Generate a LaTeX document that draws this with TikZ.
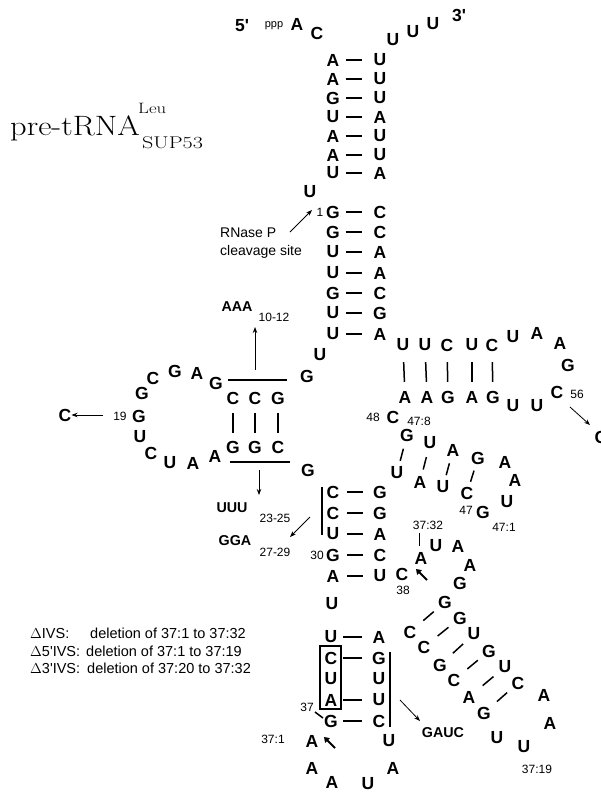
\documentclass[tikz,border=0pt]{standalone}
\usepackage{fontspec}
\setsansfont{Liberation Sans}
\usetikzlibrary{calc,arrows.meta}
\newcommand\ntf{\sffamily\bfseries\fontsize{17.5}{18}\selectfont}
\newcommand\smf{\sffamily\fontsize{12}{13}\selectfont}
\newcommand\midf{\sffamily\bfseries\fontsize{14.3}{15}\selectfont}
\newcommand\txf{\sffamily\fontsize{14}{16}\selectfont}
\newcommand\lgf{\sffamily\fontsize{14.5}{16}\selectfont}
\newcommand\bp[4]{\draw[bond] ($(#1)!#3!(#2)$) -- ($(#1)!#4!(#2)$);}
\tikzset{
  nt/.style={font=\ntf, inner sep=0pt},
  sm/.style={font=\smf, inner sep=0pt},
  md/.style={font=\midf, inner sep=0pt},
  tx/.style={font=\txf, inner sep=0pt, anchor=base west},
  lg/.style={font=\lgf, inner sep=0pt, anchor=base west},
  ttl/.style={inner sep=0pt, anchor=base west},
  bond/.style={line width=1.5pt},
  rule/.style={line width=1.3pt},
  arr/.style={line width=0.8pt, -{Stealth[length=6pt,width=4.5pt]}},
  barr/.style={line width=2pt, -{Triangle[length=5pt,width=6.5pt]}},
}
\begin{document}
\begin{tikzpicture}[x=1pt,y=-1pt]
\useasboundingbox (0,0) rectangle (601,793);
\fill[white] (0,0) rectangle (601,793);
% title
\node[ttl] (title) at (10,135) {\scalebox{1.16}[1]{\rmfamily\fontsize{28}{28}\selectfont pre-tRNA}};
\node[ttl] (leu) at (138,113) {\scalebox{1.25}[1]{\rmfamily\fontsize{15}{15}\selectfont Leu}};
\node[ttl] (sup) at (142,148) {\scalebox{1.3}[1]{\rmfamily\fontsize{17}{17}\selectfont SUP53}};
% 5' end
\node[nt] (p5) at (242,26) {5\textquotesingle};
\node[sm] (ppp) at (274,26) {\fontsize{11}{12}\selectfont ppp};
\node[nt] (A0) at (297,24) {A};
\node[nt] (C0) at (317,33) {C};
% acceptor (leader/trailer) stem
\foreach \n/\y/\l/\r in {1/60/A/U,2/79/A/U,3/98/G/U,4/117/U/A,5/136/A/U,6/155/A/U,7/173/U/A}{
  \node[nt] (aL\n) at (333,\y) {\l};
  \node[nt] (aR\n) at (380,\y) {\r};
  \bp{aL\n}{aR\n}{.27}{.62}
}
\node[nt] (t1) at (393,40) {U};
\node[nt] (t2) at (413,32) {U};
\node[nt] (t3) at (433,24) {U};
\node[nt] (p3) at (459,15) {3\textquotesingle};
\node[nt] (Ub) at (310,192) {U};
% mature acceptor stem
\foreach \n/\y/\l/\r in {1/212/G/C,2/232/G/C,3/252/U/A,4/273/U/A,5/293/G/C,6/313/U/G,7/334/U/A}{
  \node[nt] (mL\n) at (333,\y) {\l};
  \node[nt] (mR\n) at (380,\y) {\r};
  \bp{mL\n}{mR\n}{.27}{.62}
}
\node[sm] (one) at (320,212) {1};
\node[tx] (rn1) at (220,237) {RNase P};
\node[tx] (rn2) at (220,255) {cleavage site};
\coordinate (rnS) at (290,232);
\coordinate (rnE) at (312,210);
\draw[arr] (rnS) -- (rnE);
% junction
\node[nt] (U8) at (320,355) {U};
\node[nt] (G9) at (307,376) {G};
% D arm
\node[nt] (d1) at (233,398) {C};
\node[nt] (d2) at (255,398) {C};
\node[nt] (d3) at (278,398) {G};
\node[nt] (e1) at (233,447) {G};
\node[nt] (e2) at (255,447) {G};
\node[nt] (e3) at (278,447) {C};
\bp{d1}{e1}{.31}{.71}
\bp{d2}{e2}{.31}{.71}
\bp{d3}{e3}{.31}{.71}
\coordinate (hA) at (228,380); \coordinate (hB) at (287,380);
\coordinate (hC) at (230,462); \coordinate (hD) at (290,462);
\draw[rule] (hA) -- (hB);
\draw[rule] (hC) -- (hD);
% D loop
\node[nt] (dl1) at (216,383) {G};
\node[nt] (dl2) at (197,373) {A};
\node[nt] (dl3) at (175,371) {G};
\node[nt] (dl4) at (153,378) {C};
\node[nt] (dl5) at (142,393) {G};
\node[nt] (dl6) at (139,416) {G};
\node[nt] (dl7) at (140,437) {U};
\node[nt] (dl8) at (151,453) {C};
\node[nt] (dl9) at (170,463) {U};
\node[nt] (dl10) at (193,463) {A};
\node[nt] (dl11) at (215,456) {A};
\node[sm] (n19) at (120,416) {19};
\node[nt] (Cx) at (65,415) {C};
\coordinate (c19) at (103,415);
\draw[arr] (c19) -- (Cx.east);
% AAA / UUU / GGA
\node[md] (aaa) at (237,307) {AAA};
\node[sm] (n1012) at (274,317) {10-12};
\coordinate (aaS) at (255,370); \coordinate (aaE) at (255,327);
\draw[arr] (aaS) -- (aaE);
\node[md] (uuu) at (232,508) {UUU};
\node[sm] (n2325) at (275,518) {23-25};
\coordinate (uuS) at (259,470); \coordinate (uuE) at (259,495);
\draw[arr] (uuS) -- (uuE);
\node[md] (gga) at (235,541) {GGA};
\node[sm] (n2729) at (275,552) {27-29};
\coordinate (ggS) at (310,517); \coordinate (ggE) at (290,537);
\draw[arr] (ggS) -- (ggE);
\node[nt] (G26) at (308,470) {G};
% T arm
\node[nt] (T1) at (403,345) {U};
\node[nt] (T2) at (425,345) {U};
\node[nt] (T3) at (447,345) {C};
\node[nt] (T4) at (472,345) {U};
\node[nt] (T5) at (492,345) {C};
\node[nt] (B1) at (405,397) {A};
\node[nt] (B2) at (427,397) {A};
\node[nt] (B3) at (448,397) {G};
\node[nt] (B4) at (472,397) {A};
\node[nt] (B5) at (493,397) {G};
\foreach \i in {1,...,5}{\bp{T\i}{B\i}{.33}{.71}}
\node[nt] (TL1) at (513,337) {U};
\node[nt] (TL2) at (537,333) {A};
\node[nt] (TL3) at (560,343) {A};
\node[nt] (TL4) at (568,365) {G};
\node[nt] (TL5) at (557,392) {C};
\node[sm] (n56) at (577,394) {56};
\node[nt] (TL6) at (537,406) {U};
\node[nt] (TL7) at (513,406) {U};
\node[nt] (Cr) at (601,437) {C};
\coordinate (c56) at (570,407);
\coordinate (c56e) at (590,425);
\draw[arr] (c56) -- (c56e);
% variable region
\node[sm] (n48) at (373,417) {48};
\node[nt] (C48) at (393,417) {C};
\node[sm] (n478) at (419,421) {47:8};
\node[nt] (v1) at (407,435) {G};
\node[nt] (v2) at (430,443) {U};
\node[nt] (v3) at (453,450) {A};
\node[nt] (v4) at (478,458) {G};
\node[nt] (v5) at (505,462) {A};
\node[nt] (v6) at (515,480) {A};
\node[nt] (v7) at (507,502) {U};
\node[nt] (v8) at (483,512) {G};
\node[nt] (w4) at (467,493) {C};
\node[nt] (w3) at (443,487) {U};
\node[nt] (w2) at (420,482) {A};
\node[nt] (w1) at (397,473) {U};
\bp{w1}{v1}{.32}{.64}
\bp{w2}{v2}{.32}{.64}
\bp{w3}{v3}{.32}{.64}
\bp{w4}{v4}{.32}{.64}
\node[sm] (n471) at (504,527) {47:1};
\node[sm] (n47) at (466,510) {47};
% anticodon stem
\foreach \n/\y/\l/\r in {1/492/C/G,2/513/C/G,3/534/U/A,4/555/G/C,5/576/A/U}{
  \node[nt] (cL\n) at (333,\y) {\l};
  \node[nt] (cR\n) at (380,\y) {\r};
  \bp{cL\n}{cR\n}{.30}{.64}
}
\coordinate (vA) at (322,487); \coordinate (vB) at (322,535);
\draw[rule] (vA) -- (vB);
\node[sm] (n30) at (317,555) {30};
\node[nt] (C38) at (402,574) {C};
\node[sm] (n38) at (403,590) {38};
\node[nt] (U33) at (332,604) {U};
% intron
\node[sm] (n3732) at (428,525) {37:32};
\node[nt] (i32) at (421,558) {A};
\coordinate (tk1) at (419,533);
\coordinate (tk2) at (419,546);
\draw[line width=0.8pt] (tk1) -- (tk2);
\node[nt] (i31) at (436,546) {U};
\node[nt] (i30) at (458,546) {A};
\node[nt] (i29) at (470,565) {A};
\node[nt] (i28) at (460,583) {G};
\node[nt] (i27) at (445,602) {G};
\node[nt] (i26) at (460,618) {G};
\node[nt] (i25) at (474,634) {U};
\node[nt] (i24) at (489,651) {G};
\node[nt] (i23) at (505,667) {U};
\node[nt] (i22) at (518,683) {C};
\node[nt] (i21) at (544,695) {A};
\node[nt] (i20) at (550,723) {A};
\node[nt] (i19) at (524,747) {U};
\node[sm] (n3719) at (537,769) {37:19};
\node[nt] (i18) at (497,738) {U};
\node[nt] (i17) at (484,713) {G};
\node[nt] (i16) at (469,697) {A};
\node[nt] (i15) at (454,680) {C};
\node[nt] (i14) at (440,665) {G};
\node[nt] (i13) at (424,647) {C};
\node[nt] (i12) at (410,632) {C};
\bp{i12}{i27}{.38}{.68}
\bp{i13}{i26}{.38}{.68}
\bp{i14}{i25}{.38}{.68}
\bp{i15}{i24}{.38}{.68}
\bp{i16}{i23}{.38}{.68}
\bp{i17}{i22}{.38}{.68}
\coordinate (k38) at (427,580);
\coordinate (k38e) at (416,569);
\draw[barr] (k38) -- (k38e);
% lower stem
\foreach \n/\y/\l/\r in {1/637/U/A,2/658/C/G,3/679/U/U,4/700/A/U,5/721/G/C}{
  \node[nt] (sL\n) at (331,\y) {\l};
  \node[nt] (sR\n) at (379,\y) {\r};
}
\bp{sL1}{sR1}{.25}{.65}
\bp{sL2}{sR2}{.25}{.65}
\bp{sL4}{sR4}{.25}{.65}
\bp{sL5}{sR5}{.25}{.65}
\draw[line width=1.2pt] (320,646) rectangle (341,709);
\coordinate (rA) at (390,652); \coordinate (rB) at (390,727);
\draw[rule] (rA) -- (rB);
\node[sm] (n37) at (307,707) {37};
\coordinate (q37) at (315,712);
\coordinate (q37e) at (323,718);
\draw[line width=1.5pt] (q37) -- (q37e);
\node[nt] (j1) at (312,741) {A};
\node[sm] (n371) at (273,739) {37:1};
\node[nt] (j2) at (312,768) {A};
\node[nt] (j3) at (332,782) {A};
\node[nt] (j4) at (368,784) {U};
\node[nt] (j5) at (393,768) {A};
\node[nt] (j6) at (389,741) {U};
\coordinate (k37) at (335,748);
\coordinate (k37e) at (324,737);
\draw[barr] (k37) -- (k37e);
\node[md] (gauc) at (443,733) {GAUC};
\coordinate (gcS) at (400,700);
\coordinate (gcE) at (420,721);
\draw[arr] (gcS) -- (gcE);
% legend
\node[lg] (l1) at (30,638) {\(\Delta\)IVS:};
\node[lg] (l1b) at (90,638) {deletion of 37:1 to 37:32};
\node[lg] (l2) at (30,656) {\(\Delta\)5\textquotesingle IVS:};
\node[lg] (l2b) at (86,656) {deletion of 37:1 to 37:19};
\node[lg] (l3) at (30,673) {\(\Delta\)3\textquotesingle IVS:};
\node[lg] (l3b) at (87,673) {deletion of 37:20 to 37:32};
\end{tikzpicture}
\end{document}
